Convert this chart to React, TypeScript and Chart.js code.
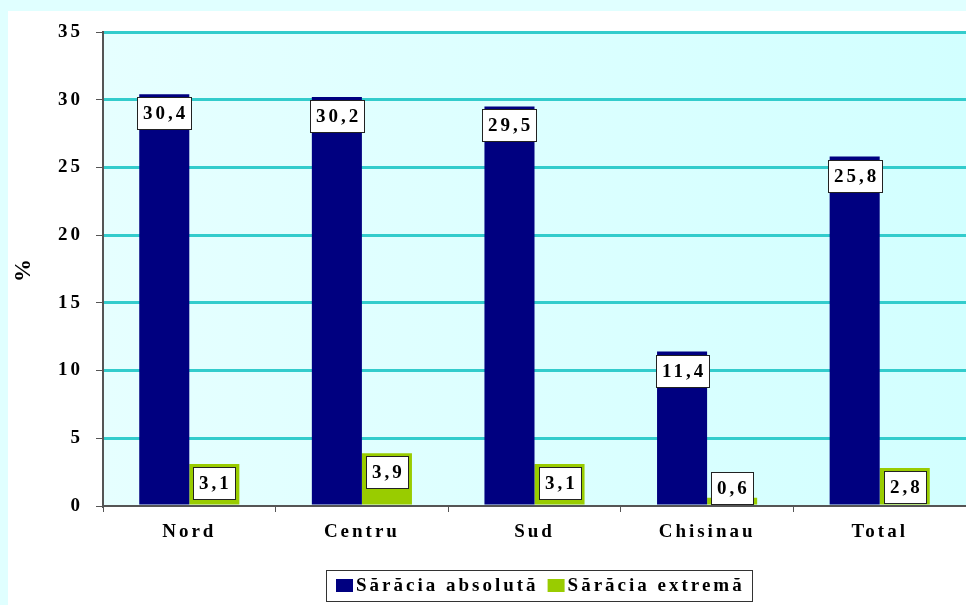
import { useEffect, useRef } from "react";
import { Chart, registerables } from "chart.js";

Chart.register(...registerables);

const categories = ["Nord", "Centru", "Sud", "Chisinau", "Total"];
const absoluteValues = [30.4, 30.2, 29.5, 11.4, 25.8];
const extremeValues = [3.1, 3.9, 3.1, 0.6, 2.8];
const seriesNames = ["Sărăcia absolută", "Sărăcia extremă"];
const seriesColors = ["#000080", "#99cc00"];
const yAxisTitle = "%";
const yMin = 0;
const yMax = 35;
const yStep = 5;

const FONT = '"Liberation Serif", "Times New Roman", serif';
const SP = 3;
const SPACING = `${SP}px`;
const FS = 19;

const backgroundPlugin = {
  id: "panelBackground",
  beforeUpdate(chart: any) {
    chart.ctx.letterSpacing = SPACING;
  },
  beforeDraw(chart: any) {
    const { ctx, chartArea: a, width, height } = chart;
    ctx.save();
    ctx.fillStyle = "#e0ffff";
    ctx.fillRect(0, 0, width, height);
    ctx.fillStyle = "#ffffff";
    ctx.fillRect(8, 11, width - 8, height - 11);
    const g = ctx.createLinearGradient(a.left, 0, a.right, 0);
    g.addColorStop(0, "#e6ffff");
    g.addColorStop(1, "#d2ffff");
    ctx.fillStyle = g;
    ctx.fillRect(a.left, a.top, a.right - a.left, a.bottom - a.top);
    ctx.restore();
    ctx.letterSpacing = SPACING;
  },
};

const boxLabelPlugin = {
  id: "boxLabels",
  afterDatasetsDraw(chart: any) {
    const ctx = chart.ctx;
    const bottom = chart.chartArea.bottom;
    chart.data.datasets.forEach((ds: any, di: number) => {
      const meta = chart.getDatasetMeta(di);
      meta.data.forEach((bar: any, i: number) => {
        const text = String(ds.data[i]).replace(".", ",");
        ctx.save();
        ctx.letterSpacing = SPACING;
        ctx.font = `bold ${FS}px ${FONT}`;
        const tw = ctx.measureText(text).width - SP;
        const w = Math.round(tw + 12);
        const h = 32;
        let top = Math.round(bar.y + 3);
        if (top + h > bottom - 2) top = bottom - 2 - h;
        const x = Math.round(bar.x - w / 2);
        ctx.fillStyle = "#ffffff";
        ctx.fillRect(x, top, w, h);
        ctx.strokeStyle = "#222222";
        ctx.lineWidth = 1;
        ctx.strokeRect(x + 0.5, top + 0.5, w, h);
        ctx.fillStyle = "#000000";
        ctx.textAlign = "left";
        ctx.textBaseline = "middle";
        ctx.fillText(text, x + 6, top + h / 2 + 1);
        ctx.restore();
      });
    });
  },
};

const legendPlugin = {
  id: "boxLegend",
  afterDraw(chart: any) {
    const ctx = chart.ctx;
    ctx.save();
    ctx.letterSpacing = SPACING;
    ctx.font = `bold ${FS}px ${FONT}`;
    const mw = 17;
    const mh = 13;
    const items = chart.data.datasets.map((ds: any) => ({
      label: ds.label,
      color: ds.backgroundColor,
      w: ctx.measureText(ds.label).width - SP,
    }));
    const gapMarker = 3;
    const gapItem = 12;
    let total = 0;
    items.forEach((it: any, i: number) => {
      total += mw + gapMarker + it.w + (i < items.length - 1 ? gapItem : 0);
    });
    const cx = 539;
    const padX = 10;
    const boxTop = 570;
    const boxH = 31;
    const left = Math.round(cx - total / 2);
    ctx.fillStyle = "#ffffff";
    ctx.fillRect(left - padX, boxTop, total + padX * 2, boxH);
    ctx.strokeStyle = "#333333";
    ctx.lineWidth = 1;
    ctx.strokeRect(left - padX + 0.5, boxTop + 0.5, Math.round(total + padX * 2), boxH);
    let x = left;
    const midY = boxTop + boxH / 2;
    items.forEach((it: any) => {
      ctx.fillStyle = it.color;
      ctx.fillRect(x, Math.round(midY - mh / 2), mw, mh);
      x += mw + gapMarker;
      ctx.fillStyle = "#000000";
      ctx.textAlign = "left";
      ctx.textBaseline = "middle";
      ctx.fillText(it.label, x, midY + 1);
      x += it.w + gapItem;
    });
    ctx.restore();
  },
};

export default function App() {
  const canvasRef = useRef<HTMLCanvasElement | null>(null);

  useEffect(() => {
    const canvas = canvasRef.current;
    if (!canvas) return;
    Chart.defaults.font.family = FONT;
    Chart.defaults.font.size = FS;
    Chart.defaults.font.weight = "bold";
    Chart.defaults.color = "#000000";

    const tickFont = { size: FS, weight: "bold" as const, family: FONT };

    const chart = new Chart(canvas, {
      type: "bar",
      data: {
        labels: categories,
        datasets: [
          {
            label: seriesNames[0],
            data: absoluteValues,
            backgroundColor: seriesColors[0],
            borderWidth: 0,
            barPercentage: 1,
            categoryPercentage: 0.58,
          },
          {
            label: seriesNames[1],
            data: extremeValues,
            backgroundColor: seriesColors[1],
            borderWidth: 0,
            barPercentage: 1,
            categoryPercentage: 0.58,
          },
        ],
      },
      options: {
        responsive: false,
        animation: false,
        devicePixelRatio: 1,
        layout: { padding: { top: 32, left: 0, right: 0, bottom: 0 } },
        plugins: {
          legend: { display: false },
          tooltip: { enabled: false },
          title: { display: false },
        },
        scales: {
          x: {
            grid: {
              display: true,
              drawOnChartArea: false,
              drawTicks: true,
              tickLength: 6,
              tickColor: "#555555",
              tickWidth: 1,
            },
            border: { display: true, color: "#555555", width: 2 },
            ticks: { padding: 9, font: tickFont },
            afterFit: (s: any) => {
              s.height = 99;
            },
          },
          y: {
            min: yMin,
            max: yMax,
            ticks: {
              stepSize: yStep,
              padding: 13,
              font: tickFont,
            },
            grid: {
              color: (c: any) => (c.tick && c.tick.value === 0 ? "rgba(0,0,0,0)" : "#33cccc"),
              lineWidth: 3,
              tickLength: 7,
              tickColor: "#555555",
              tickWidth: 1,
            },
            border: { display: true, color: "#555555", width: 2 },
            title: {
              display: true,
              text: yAxisTitle,
              padding: { top: 10, bottom: 0 },
              font: { size: 23, weight: "bold" as const, family: FONT },
            },
            afterFit: (s: any) => {
              s.width = 103;
            },
          },
        },
      },
      plugins: [backgroundPlugin, boxLabelPlugin, legendPlugin],
    });
    return () => chart.destroy();
  }, []);

  return (
    <div style={{ position: "fixed", left: 0, top: 0, width: 966, height: 605 }}>
      <canvas ref={canvasRef} width={966} height={605} style={{ display: "block" }} />
    </div>
  );
}
